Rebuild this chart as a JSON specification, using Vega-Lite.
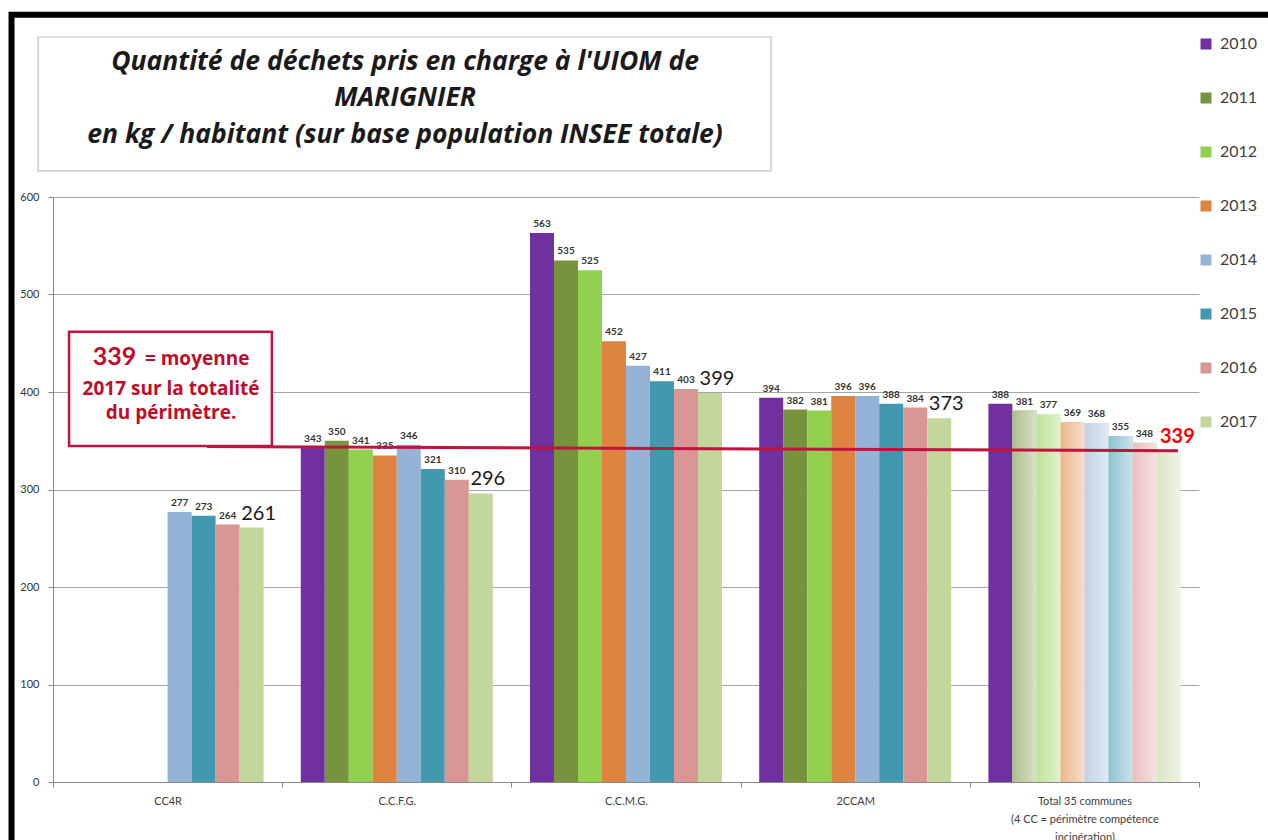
{
  "$schema": "https://vega.github.io/schema/vega-lite/v6.json",
  "width": 1146,
  "height": 585,
  "autosize": {"type": "none"},
  "padding": {"left": 53, "top": 197, "right": 69, "bottom": 58},
  "background": "white",
  "config": {"view": {"stroke": null}, "font": "Lato"},
  "datasets": {
    "bars": [
      {"grp": "CC4R", "year": "2014", "v": 277},
      {"grp": "CC4R", "year": "2015", "v": 273},
      {"grp": "CC4R", "year": "2016", "v": 264},
      {"grp": "CC4R", "year": "2017", "v": 261},
      {"grp": "C.C.F.G.", "year": "2010", "v": 343},
      {"grp": "C.C.F.G.", "year": "2011", "v": 350},
      {"grp": "C.C.F.G.", "year": "2012", "v": 341},
      {"grp": "C.C.F.G.", "year": "2013", "v": 335},
      {"grp": "C.C.F.G.", "year": "2014", "v": 346},
      {"grp": "C.C.F.G.", "year": "2015", "v": 321},
      {"grp": "C.C.F.G.", "year": "2016", "v": 310},
      {"grp": "C.C.F.G.", "year": "2017", "v": 296},
      {"grp": "C.C.M.G.", "year": "2010", "v": 563},
      {"grp": "C.C.M.G.", "year": "2011", "v": 535},
      {"grp": "C.C.M.G.", "year": "2012", "v": 525},
      {"grp": "C.C.M.G.", "year": "2013", "v": 452},
      {"grp": "C.C.M.G.", "year": "2014", "v": 427},
      {"grp": "C.C.M.G.", "year": "2015", "v": 411},
      {"grp": "C.C.M.G.", "year": "2016", "v": 403},
      {"grp": "C.C.M.G.", "year": "2017", "v": 399},
      {"grp": "2CCAM", "year": "2010", "v": 394},
      {"grp": "2CCAM", "year": "2011", "v": 382},
      {"grp": "2CCAM", "year": "2012", "v": 381},
      {"grp": "2CCAM", "year": "2013", "v": 396},
      {"grp": "2CCAM", "year": "2014", "v": 396},
      {"grp": "2CCAM", "year": "2015", "v": 388},
      {"grp": "2CCAM", "year": "2016", "v": 384},
      {"grp": "2CCAM", "year": "2017", "v": 373},
      {"grp": "Total", "year": "2010", "v": 388},
      {"grp": "Total", "year": "2011", "v": 381},
      {"grp": "Total", "year": "2012", "v": 377},
      {"grp": "Total", "year": "2013", "v": 369},
      {"grp": "Total", "year": "2014", "v": 368},
      {"grp": "Total", "year": "2015", "v": 355},
      {"grp": "Total", "year": "2016", "v": 348},
      {"grp": "Total", "year": "2017", "v": 339}
    ]
  },
  "layer": [
    {
      "data": {"values": [
        {"name": "frame", "x": -0.181, "x2": 6, "y": 787, "y2": -100}
      ]},
      "mark": {"type": "rect", "clip": false, "fill": null, "stroke": "#000000", "strokeWidth": 6},
      "encoding": {
        "x": {"field": "x", "type": "quantitative", "scale": {"domain": [0, 5]}, "axis": null},
        "x2": {"field": "x2"},
        "y": {"field": "y", "type": "quantitative", "scale": {"domain": [0, 600]}, "axis": null},
        "y2": {"field": "y2"}
      }
    },
    {
      "data": {"name": "bars"},
      "encoding": {
        "x": {
          "field": "grp", "type": "nominal",
          "sort": ["CC4R", "C.C.F.G.", "C.C.M.G.", "2CCAM", "Total"],
          "scale": {"paddingInner": 0, "paddingOuter": 0},
          "axis": {
            "title": null, "labelAngle": 0, "tickBand": "extent", "tickSize": 5,
            "domainColor": "#888888", "tickColor": "#888888", "labelFontSize": 11,
            "labelColor": "#404040", "labelPadding": 8, "labelLineHeight": 18,
            "labelExpr": "datum.value === 'Total' ? ['Total 35 communes', '(4 CC = périmètre  compétence', 'incinération)'] : datum.value"
          }
        },
        "xOffset": {
          "field": "year", "type": "nominal",
          "sort": ["2010", "2011", "2012", "2013", "2014", "2015", "2016", "2017"],
          "scale": {"paddingInner": 0, "paddingOuter": 0.775}
        },
        "y": {
          "field": "v", "type": "quantitative",
          "scale": {"domain": [0, 600]},
          "axis": {
            "title": null, "values": [0, 100, 200, 300, 400, 500, 600], "grid": true,
            "gridColor": "#a6a6a6", "domainColor": "#888888", "tickColor": "#888888",
            "tickSize": 5, "labelPadding": 9, "labelFontSize": 11, "labelColor": "#333333"
          }
        }
      },
      "layer": [
        {
          "mark": {"type": "bar", "clip": false},
          "encoding": {
            "color": {
              "field": "year", "type": "nominal",
              "scale": {
                "domain": ["2010", "2011", "2012", "2013", "2014", "2015", "2016", "2017"],
                "range": ["#7030a0", "#77933c", "#92d050", "#df8440", "#95b3d7", "#4198af", "#d99694", "#c3d69b"]
              },
              "legend": {
                "orient": "none", "legendX": 1145, "legendY": -161, "title": null,
                "symbolType": "square", "symbolSize": 121, "symbolStrokeWidth": 0,
                "labelFontSize": 16, "labelColor": "#404040", "labelOffset": 6, "rowPadding": 38
              }
            }
          }
        },
        {
          "transform": [{"filter": "datum.grp === 'Total' && datum.year !== '2010'"}],
          "mark": {
            "type": "bar", "clip": false,
            "fill": {
              "gradient": "linear", "x1": 0, "y1": 0, "x2": 1, "y2": 0,
              "stops": [
                {"offset": 0, "color": "rgba(255,255,255,0.4)"},
                {"offset": 1, "color": "rgba(255,255,255,0.72)"}
              ]
            }
          }
        },
        {
          "transform": [{"filter": "datum.year !== '2017'"}],
          "mark": {"type": "text", "baseline": "alphabetic", "dy": -6, "fontSize": 10, "fontWeight": "bold", "color": "#333333"},
          "encoding": {"text": {"field": "v"}}
        },
        {
          "transform": [{"filter": "datum.year === '2017' && datum.grp !== 'Total'"}],
          "mark": {"type": "text", "baseline": "alphabetic", "dy": -8, "dx": 7, "fontSize": 20, "color": "#1a1a1a"},
          "encoding": {"text": {"field": "v"}}
        },
        {
          "transform": [{"filter": "datum.year === '2017' && datum.grp === 'Total'"}],
          "mark": {"type": "text", "baseline": "alphabetic", "dy": -8, "dx": 9, "fontSize": 20, "fontWeight": "bold", "color": "#ff0000"},
          "encoding": {"text": {"field": "v"}}
        }
      ]
    },
    {
      "data": {"values": [
        {"name": "titlebox", "x": -0.065, "x2": 3.133, "y": 764.1, "y2": 626.7}
      ]},
      "mark": {"type": "rect", "clip": false, "fill": "#ffffff", "stroke": "#bfbfbf", "strokeWidth": 1.2},
      "encoding": {
        "x": {"field": "x", "type": "quantitative", "scale": {"domain": [0, 5]}, "axis": null},
        "x2": {"field": "x2"},
        "y": {"field": "y", "type": "quantitative", "scale": {"domain": [0, 600]}, "axis": null},
        "y2": {"field": "y2"}
      }
    },
    {
      "data": {"values": [
        {"t": "Quantité de déchets pris en charge à l'UIOM de", "x": 1.536, "y": 738.5},
        {"t": "MARIGNIER", "x": 1.536, "y": 701.5},
        {"t": "en kg / habitant (sur base population  INSEE totale)", "x": 1.536, "y": 663.6}
      ]},
      "mark": {"type": "text", "clip": false, "align": "center", "baseline": "middle", "font": "Open Sans", "fontSize": 26.5, "fontWeight": "bold", "fontStyle": "italic", "color": "#1a1a1a"},
      "encoding": {
        "x": {"field": "x", "type": "quantitative", "scale": {"domain": [0, 5]}, "axis": null},
        "y": {"field": "y", "type": "quantitative", "scale": {"domain": [0, 600]}, "axis": null},
        "text": {"field": "t"}
      }
    },
    {
      "data": {"values": [
        {"x": 0.672, "x2": 4.908, "y": 344.1, "y2": 339.8}
      ]},
      "mark": {"type": "rule", "clip": false, "color": "#c0143c", "strokeWidth": 3},
      "encoding": {
        "x": {"field": "x", "type": "quantitative", "scale": {"domain": [0, 5]}, "axis": null},
        "x2": {"field": "x2"},
        "y": {"field": "y", "type": "quantitative", "scale": {"domain": [0, 600]}, "axis": null},
        "y2": {"field": "y2"}
      }
    },
    {
      "data": {"values": [
        {"name": "notebox", "x": 0.070, "x2": 0.955, "y": 461.8, "y2": 344.6}
      ]},
      "mark": {"type": "rect", "clip": false, "fill": "#ffffff", "stroke": "#c0143c", "strokeWidth": 2.5},
      "encoding": {
        "x": {"field": "x", "type": "quantitative", "scale": {"domain": [0, 5]}, "axis": null},
        "x2": {"field": "x2"},
        "y": {"field": "y", "type": "quantitative", "scale": {"domain": [0, 600]}, "axis": null},
        "y2": {"field": "y2"}
      }
    },
    {
      "data": {"values": [
        {"t": "339", "x": 0.268, "y": 427.7}
      ]},
      "mark": {"type": "text", "clip": false, "align": "center", "baseline": "alphabetic", "fontSize": 25, "fontWeight": "bold", "color": "#c00d2a"},
      "encoding": {
        "x": {"field": "x", "type": "quantitative", "scale": {"domain": [0, 5]}, "axis": null},
        "y": {"field": "y", "type": "quantitative", "scale": {"domain": [0, 600]}, "axis": null},
        "text": {"field": "t"}
      }
    },
    {
      "data": {"values": [
        {"t": "= moyenne", "x": 0.401, "y": 427.7}
      ]},
      "mark": {"type": "text", "clip": false, "align": "left", "baseline": "alphabetic", "font": "Open Sans", "fontSize": 19, "fontWeight": "bold", "color": "#c00d2a"},
      "encoding": {
        "x": {"field": "x", "type": "quantitative", "scale": {"domain": [0, 5]}, "axis": null},
        "y": {"field": "y", "type": "quantitative", "scale": {"domain": [0, 600]}, "axis": null},
        "text": {"field": "t"}
      }
    },
    {
      "data": {"values": [
        {"t": "2017 sur la totalité", "x": 0.515, "y": 397.4},
        {"t": "du périmètre.", "x": 0.515, "y": 372.8}
      ]},
      "mark": {"type": "text", "clip": false, "align": "center", "baseline": "alphabetic", "font": "Open Sans", "fontSize": 19, "fontWeight": "bold", "color": "#c00d2a"},
      "encoding": {
        "x": {"field": "x", "type": "quantitative", "scale": {"domain": [0, 5]}, "axis": null},
        "y": {"field": "y", "type": "quantitative", "scale": {"domain": [0, 600]}, "axis": null},
        "text": {"field": "t"}
      }
    }
  ],
  "resolve": {"scale": {"x": "independent", "y": "independent"}}
}
